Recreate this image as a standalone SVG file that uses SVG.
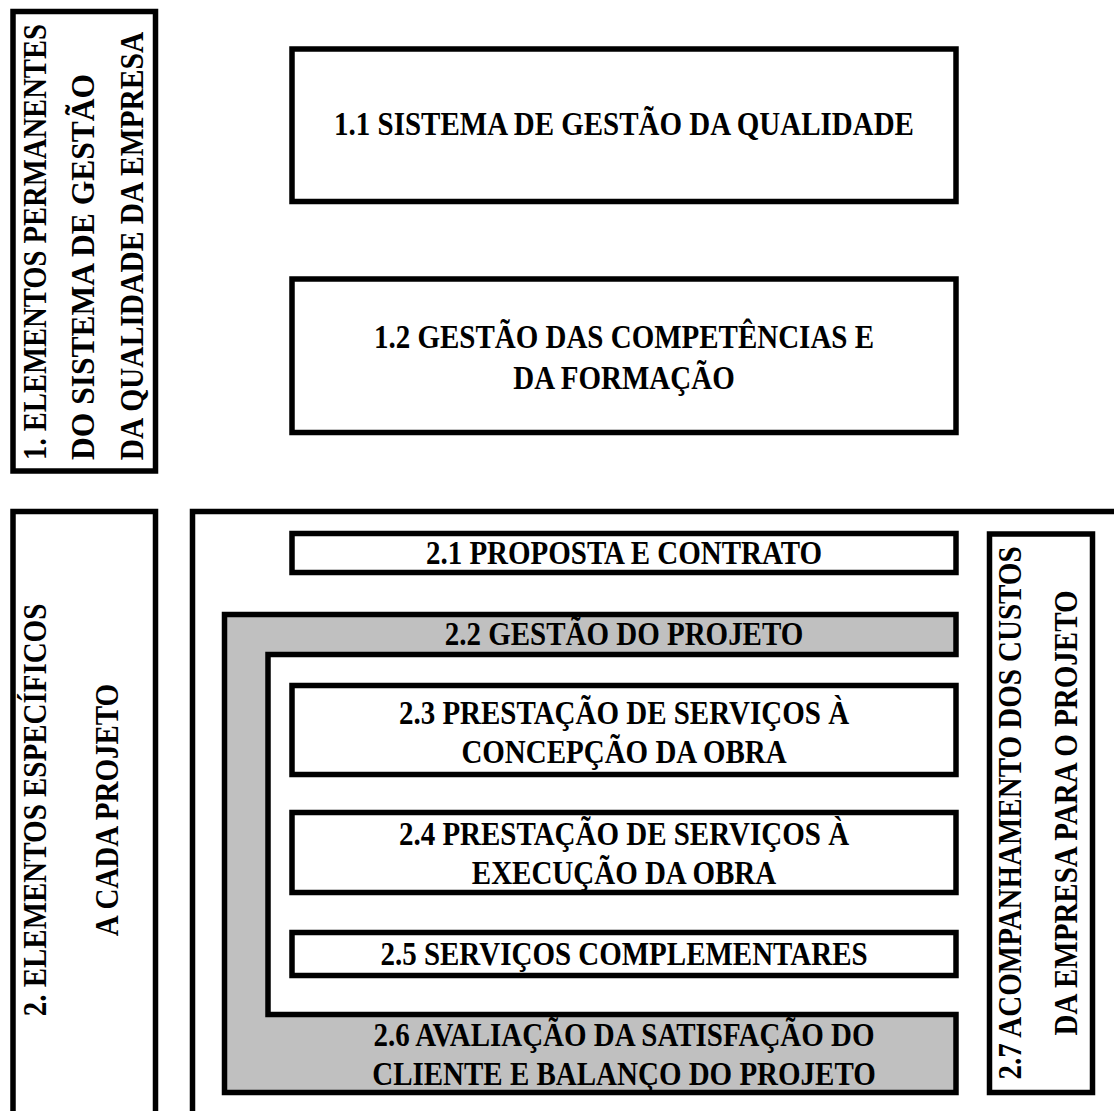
<svg xmlns="http://www.w3.org/2000/svg" width="1114" height="1111" viewBox="0 0 1114 1111">
<style>
.b{fill:#fff;stroke:#000;stroke-width:5.5}
.g{fill:#c0c0c0;stroke:#000;stroke-width:5.5}
.ln{fill:none;stroke:#000;stroke-width:5.5}
.t{font-family:"Liberation Serif","Times New Roman",serif;font-weight:bold;font-size:34px;fill:#000;text-anchor:middle}
.v{font-family:"Liberation Serif","Times New Roman",serif;font-weight:bold;font-size:33px;fill:#000;text-anchor:middle}
</style>
<rect width="1114" height="1111" fill="#fff"/>
<g id="node-1">
<rect class="b" x="13" y="11.5" width="142.5" height="459.5"/>
<text class="v" transform="translate(46,242) rotate(-90) scale(0.867,1)">1. ELEMENTOS PERMANENTES</text>
<text class="v" transform="translate(94,267) rotate(-90) scale(0.955,1)">DO SISTEMA DE GESTÃO</text>
<text class="v" transform="translate(143,246) rotate(-90) scale(0.894,1)">DA QUALIDADE DA EMPRESA</text>
</g>
<g id="node-1-1">
<rect class="b" x="292" y="49" width="664" height="152.5"/>
<text class="t" transform="translate(624,135) scale(0.853,1)">1.1 SISTEMA DE GESTÃO DA QUALIDADE</text>
</g>
<g id="node-1-2">
<rect class="b" x="292" y="279" width="664" height="153.5"/>
<text class="t" transform="translate(624,348) scale(0.853,1)">1.2 GESTÃO DAS COMPETÊNCIAS E</text>
<text class="t" transform="translate(624,389) scale(0.853,1)">DA FORMAÇÃO</text>
</g>
<g id="node-2">
<path class="ln" d="M13,1120 V511.5 H155.5 V1120"/>
<text class="t" transform="translate(46,810) rotate(-90) scale(0.853,1)">2. ELEMENTOS ESPECÍFICOS</text>
<text class="t" transform="translate(118,810) rotate(-90) scale(0.853,1)">A CADA PROJETO</text>
</g>
<g id="node-2-frame">
<path class="ln" d="M192.5,1120 V511.5 H1120"/>
</g>
<g id="node-2-1">
<rect class="b" x="292" y="533.5" width="664" height="39"/>
<text class="t" transform="translate(624,564) scale(0.853,1)">2.1 PROPOSTA E CONTRATO</text>
</g>
<g id="node-2-2-6">
<path class="g" d="M224.5,614.5 H956 V654.5 H268 V1014.5 H956 V1092.5 H224.5 Z"/>
<text class="t" transform="translate(624,645) scale(0.853,1)">2.2 GESTÃO DO PROJETO</text>
<text class="t" transform="translate(624,1046) scale(0.853,1)">2.6 AVALIAÇÃO DA SATISFAÇÃO DO</text>
<text class="t" transform="translate(624,1085) scale(0.853,1)">CLIENTE E BALANÇO DO PROJETO</text>
</g>
<g id="node-2-3">
<rect class="b" x="292" y="685.5" width="664" height="89"/>
<text class="t" transform="translate(624,724) scale(0.853,1)">2.3 PRESTAÇÃO DE SERVIÇOS À</text>
<text class="t" transform="translate(624,763) scale(0.853,1)">CONCEPÇÃO DA OBRA</text>
</g>
<g id="node-2-4">
<rect class="b" x="292" y="812.5" width="664" height="80"/>
<text class="t" transform="translate(624,845) scale(0.853,1)">2.4 PRESTAÇÃO DE SERVIÇOS À</text>
<text class="t" transform="translate(624,884) scale(0.853,1)">EXECUÇÃO DA OBRA</text>
</g>
<g id="node-2-5">
<rect class="b" x="292" y="932.5" width="664" height="43"/>
<text class="t" transform="translate(624,965) scale(0.853,1)">2.5 SERVIÇOS COMPLEMENTARES</text>
</g>
<g id="node-2-7">
<rect class="b" x="989.5" y="534" width="103" height="558.5"/>
<text class="t" transform="translate(1021,813) rotate(-90) scale(0.853,1)">2.7 ACOMPANHAMENTO DOS CUSTOS</text>
<text class="t" transform="translate(1077,813) rotate(-90) scale(0.853,1)">DA EMPRESA PARA O PROJETO</text>
</g>
<g id="connectors"/>
</svg>
